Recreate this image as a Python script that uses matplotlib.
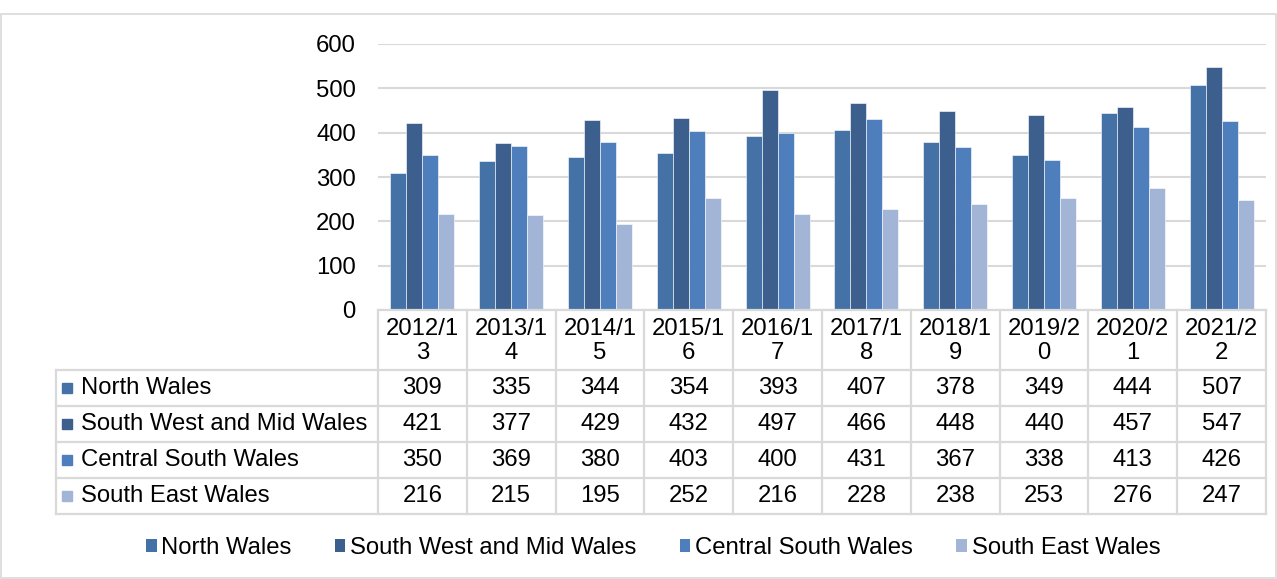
import matplotlib
matplotlib.use("Agg")
import matplotlib.pyplot as plt
from matplotlib.patches import Rectangle, Patch
from matplotlib.lines import Line2D
import numpy as np

plt.rcParams['font.family'] = ['Liberation Sans', 'DejaVu Sans']

years = ["2012/13", "2013/14", "2014/15", "2015/16", "2016/17",
         "2017/18", "2018/19", "2019/20", "2020/21", "2021/22"]
header_labels = ["2012/1\n3", "2013/1\n4", "2014/1\n5", "2015/1\n6", "2016/1\n7",
                 "2017/1\n8", "2018/1\n9", "2019/2\n0", "2020/2\n1", "2021/2\n2"]
series_names = ["North Wales", "South West and Mid Wales", "Central South Wales", "South East Wales"]
north_wales = [309, 335, 344, 354, 393, 407, 378, 349, 444, 507]
south_west_mid = [421, 377, 429, 432, 497, 466, 448, 440, 457, 547]
central_south = [350, 369, 380, 403, 400, 431, 367, 338, 413, 426]
south_east = [216, 215, 195, 252, 216, 228, 238, 253, 276, 247]
series_values = [north_wales, south_west_mid, central_south, south_east]
colors = ["#4471A6", "#3C5F8E", "#4E7FBC", "#A3B5D6"]

FS = 17.2

W, H = 1277, 579
fig = plt.figure(figsize=(W / 100, H / 100), dpi=100)

def fx(px):
    return px / W

def fy(py):
    return 1 - py / H

ax_left, ax_right, ax_top, ax_bottom = 378, 1266, 44, 310
ax = fig.add_axes([fx(ax_left), fy(ax_bottom), fx(ax_right - ax_left), fy(ax_top) - fy(ax_bottom)])

n = len(years)
x = np.arange(n)
bw = 0.18
for i, (vals, c) in enumerate(zip(series_values, colors)):
    ax.bar(x + (i - 1.5) * bw, vals, width=bw, color=c, edgecolor="#FFFFFF", linewidth=0.4, zorder=3)

ax.set_xlim(-0.5, n - 0.5)
ax.set_ylim(0, 600)
ax.set_yticks(range(0, 601, 100))
ax.yaxis.grid(True, color="#D9D9D9", linewidth=1.5, zorder=0)
ax.set_xticks([])
for s in ax.spines.values():
    s.set_visible(False)
ax.tick_params(axis='y', length=0, labelsize=FS, pad=16, labelcolor="#000000")

# Table
grid_col = "#D9D9D9"
lw = 1.6
col_w = (ax_right - ax_left) / n
row_tops = [310, 370, 406, 442, 478, 514]
table_left = 56

def hline(y, x0, x1):
    fig.add_artist(Line2D([fx(x0), fx(x1)], [fy(y), fy(y)], color=grid_col, lw=lw))

def vline(xp, y0, y1):
    fig.add_artist(Line2D([fx(xp), fx(xp)], [fy(y0), fy(y1)], color=grid_col, lw=lw))

hline(310, ax_left, ax_right)
for y in row_tops[1:]:
    hline(y, table_left, ax_right)
vline(table_left, 370, 514)
for k in range(n + 1):
    vline(ax_left + k * col_w, 310, 514)

for k, lab in enumerate(header_labels):
    fig.text(fx(ax_left + (k + 0.5) * col_w), fy(341), lab, ha="center", va="center",
             fontsize=FS, linespacing=1.1)

for r, (name, vals, c) in enumerate(zip(series_names, series_values, colors)):
    yc = (row_tops[r + 1] + row_tops[r + 2]) / 2
    fig.add_artist(Rectangle((fx(62), fy(yc + 5)), fx(10), fy(yc - 5) - fy(yc + 5), color=c))
    fig.text(fx(81), fy(yc), name, ha="left", va="center", fontsize=FS)
    for k, v in enumerate(vals):
        fig.text(fx(ax_left + (k + 0.5) * col_w), fy(yc), str(v), ha="center", va="center", fontsize=FS)

# Legend
handles = [Patch(facecolor=c, edgecolor="none") for c in colors]
fig.legend(handles, series_names, loc="center", bbox_to_anchor=(fx(653), fy(548)), ncol=4,
           frameon=False, fontsize=FS, handlelength=0.45, handleheight=0.45,
           handletextpad=0.2, columnspacing=1.8)

# Outer border
fig.add_artist(Rectangle((fx(1), fy(578)), fx(1275), fy(14) - fy(578), fill=False,
                         edgecolor="#D9D9D9", lw=1.2))

fig.savefig("out.png", dpi=100)
